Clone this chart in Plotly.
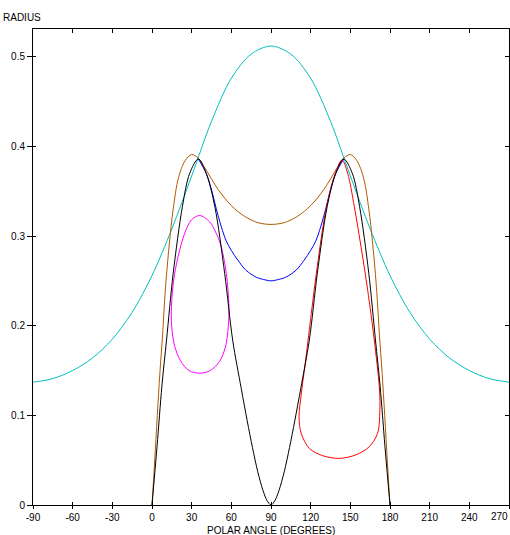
import plotly.graph_objects as go

# ---- data (polar angle in degrees, radius) ----
CYAN_ANGLE = [-90, -75, -60, -45, -30, -15, 0, 15, 30, 45, 60, 75, 90,
              105, 120, 135, 150, 165, 180, 195, 210, 225, 240, 255, 270]
CYAN_R = [0.137, 0.141, 0.150, 0.164, 0.185, 0.215, 0.256, 0.308, 0.367, 0.428, 0.476, 0.503, 0.512,
          0.503, 0.476, 0.428, 0.367, 0.308, 0.256, 0.215, 0.185, 0.164, 0.150, 0.141, 0.137]

BROWN_ANGLE = [0, 2, 4, 6, 8, 10, 13, 16, 20, 25, 30, 35, 40, 50, 60, 70, 80, 90,
               100, 110, 120, 130, 140, 145, 150, 155, 160, 164, 167, 170, 172, 174, 176, 178, 180]
BROWN_R = [0.000, 0.048, 0.100, 0.148, 0.190, 0.238, 0.290, 0.330, 0.365, 0.384, 0.391, 0.387, 0.376,
           0.352, 0.334, 0.322, 0.315, 0.313,
           0.315, 0.322, 0.334, 0.352, 0.376, 0.387, 0.391, 0.384, 0.365, 0.330, 0.290, 0.238,
           0.190, 0.148, 0.100, 0.048, 0.000]

BLUE_ANGLE = [35, 41, 45.5, 48.5, 52.5, 56, 60, 65, 71, 79, 86, 90,
              94, 101, 109, 115, 120, 124, 127.5, 131.5, 134.5, 139, 145]
BLUE_R = [0.386, 0.370, 0.349, 0.331, 0.310, 0.295, 0.284, 0.273, 0.262, 0.254, 0.251, 0.250,
          0.251, 0.254, 0.262, 0.273, 0.284, 0.295, 0.310, 0.331, 0.349, 0.370, 0.386]

BLACK_ANGLE = [0, 3.8, 7.5, 11, 16, 23, 28.5, 35, 41, 47.5, 55, 61, 67.5, 72, 76, 80, 84, 87, 90,
               93, 96, 100, 104, 108, 112.5, 119, 125, 132.5, 139, 145, 151.5, 157, 164, 169,
               172.5, 176.2, 180]
BLACK_R = [0.000, 0.065, 0.133, 0.184, 0.258, 0.333, 0.370, 0.386, 0.370, 0.333, 0.258, 0.184,
           0.130, 0.094, 0.064, 0.037, 0.016, 0.005, 0.000,
           0.005, 0.016, 0.037, 0.064, 0.094, 0.130, 0.184, 0.258, 0.333, 0.370, 0.386, 0.370,
           0.333, 0.258, 0.184, 0.133, 0.065, 0.000]

MAGENTA_ANGLE = [36, 43.6, 48.6, 52.4, 56.2, 58.2, 57.7, 55.5, 51, 44, 36, 28, 21.5, 17.0,
                 14.9, 14.7, 16.4, 19.7, 24.7, 29.8, 36]
MAGENTA_R = [0.323, 0.316, 0.303, 0.288, 0.258, 0.221, 0.199, 0.176, 0.160, 0.150, 0.147, 0.150,
             0.161, 0.178, 0.199, 0.221, 0.251, 0.277, 0.303, 0.318, 0.323]

RED_ANGLE = [143.7, 137.5, 131, 125, 120.5, 116.5, 113.0, 111.2, 112.8, 119.1, 129.1, 141.7,
             154.3, 164.3, 170.6, 172.4, 171.9, 168.1, 163.1, 158.1, 153.0, 148.0, 143.7]
RED_R = [0.385, 0.365, 0.325, 0.266, 0.214, 0.165, 0.125, 0.098, 0.080, 0.063, 0.055, 0.052,
         0.056, 0.065, 0.080, 0.110, 0.132, 0.184, 0.240, 0.288, 0.333, 0.370, 0.385]

X_TICKS = [-90, -60, -30, 0, 30, 60, 90, 120, 150, 180, 210, 240, 270]
X_LABELS = ["-90", "-60", "-30", "0", "30", "60", "90", "120", "150", "180", "210", "240", "270"]
Y_TICKS = [0, 0.1, 0.2, 0.3, 0.4, 0.5]
Y_LABELS = ["0", "0.1", "0.2", "0.3", "0.4", "0.5"]

X_RANGE = [-90, 270]
Y_RANGE = [0, 0.531]

FONT = dict(family="Liberation Sans, Arial, sans-serif", size=10, color="black")

SERIES = [
    (CYAN_ANGLE, CYAN_R, "#00C0C0"),
    (BROWN_ANGLE, BROWN_R, "#B05A00"),
    (BLUE_ANGLE, BLUE_R, "#0000FF"),
    (MAGENTA_ANGLE, MAGENTA_R, "#FF00FF"),
    (RED_ANGLE, RED_R, "#FF0000"),
    (BLACK_ANGLE, BLACK_R, "#000000"),
]

fig = go.Figure()
for xs, ys, col in SERIES:
    fig.add_trace(go.Scatter(x=xs, y=ys, mode="lines",
                             line=dict(color=col, width=1, shape="spline", smoothing=0.9),
                             showlegend=False, hoverinfo="skip"))

# empty traces so the overlay axes (inner ticks) get drawn
for xa, ya in (("x2", "y2"), ("x3", "y3")):
    fig.add_trace(go.Scatter(x=[None], y=[None], xaxis=xa, yaxis=ya,
                             showlegend=False, hoverinfo="skip"))

base = dict(showgrid=False, zeroline=False, tickcolor="black", tickwidth=1)

# last label sits at the right edge, so it is drawn right-aligned as an annotation
bottom_text = X_LABELS[:-1] + [""]

fig.update_layout(
    width=510, height=535,
    margin=dict(l=33, r=1, t=29, b=30),
    paper_bgcolor="white", plot_bgcolor="white",
    font=FONT,
    xaxis=dict(**base, range=X_RANGE, tickvals=X_TICKS, ticktext=bottom_text,
               ticks="outside", ticklen=3, showline=True, linecolor="black",
               linewidth=1, mirror=True, tickfont=FONT),
    yaxis=dict(**base, range=Y_RANGE, tickvals=Y_TICKS, ticktext=Y_LABELS,
               ticks="outside", ticklen=5, showline=True, linecolor="black",
               linewidth=1, mirror=True, tickfont=FONT),
    xaxis2=dict(**base, range=X_RANGE, tickvals=X_TICKS, overlaying="x", side="top",
                ticks="inside", ticklen=4, showticklabels=False, showline=False),
    yaxis2=dict(**base, range=Y_RANGE, tickvals=Y_TICKS, overlaying="y", side="right",
                ticks="inside", ticklen=4, showticklabels=False, showline=False),
    xaxis3=dict(**base, range=X_RANGE, tickvals=X_TICKS, overlaying="x", side="bottom",
                ticks="inside", ticklen=3, showticklabels=False, showline=False),
    yaxis3=dict(**base, range=Y_RANGE, tickvals=Y_TICKS, overlaying="y", side="left",
                ticks="inside", ticklen=3, showticklabels=False, showline=False),
    annotations=[
        dict(text="RADIUS", xref="paper", yref="paper", x=0, y=1, xanchor="left",
             yanchor="middle", xshift=-32, yshift=12, showarrow=False, font=FONT),
        dict(text="POLAR ANGLE (DEGREES)", xref="paper", yref="paper", x=0.5, y=0,
             xanchor="center", yanchor="middle", yshift=-25, showarrow=False, font=FONT),
        dict(text=X_LABELS[-1], xref="paper", yref="paper", x=1, y=0,
             xanchor="right", yanchor="middle", xshift=1, yshift=-11, showarrow=False,
             font=FONT),
    ],
)

# the page's default 8px body margin would push the fixed-size figure off the window
fig.write_html("out.html", config={"displayModeBar": False},
               post_script="document.body.style.margin='0';")
